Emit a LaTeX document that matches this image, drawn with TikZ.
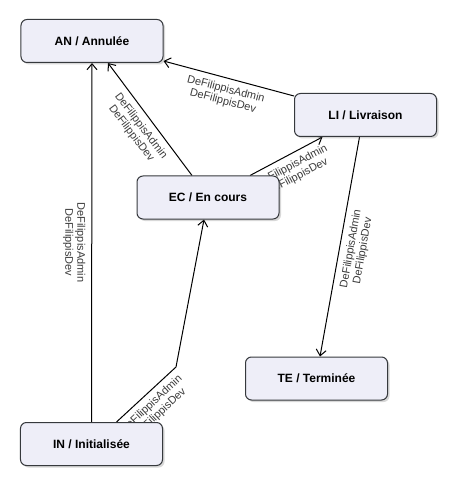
\documentclass[tikz,border=0pt]{standalone}
\usepackage{fontspec}
\setmainfont{Liberation Sans}
\usetikzlibrary{arrows.meta,shadows}
\definecolor{stfill}{RGB}{238, 238, 248}
\definecolor{stdraw}{RGB}{54, 57, 61}
\definecolor{lblgray}{RGB}{60, 60, 60}
\pgfdeclarelayer{bg}
\pgfdeclarelayer{edges}
\pgfsetlayers{bg,edges,main}

\begin{document}
\begin{tikzpicture}[x=1bp, y=-1bp,
  state/.style={draw=stdraw, fill=stfill, line width=1bp, rounded corners=6bp,
    minimum width=142bp, minimum height=43bp, inner sep=0pt,
    font=\fontsize{12bp}{14bp}\selectfont\bfseries,
    drop shadow={shadow xshift=2bp, shadow yshift=-2bp, opacity=0.25, fill=black!60}},
  trans/.style={line width=1bp, -{Straight Barb[length=6bp,width=10bp]}},
  who/.style={font=\fontsize{11bp}{12bp}\selectfont, text=lblgray, align=center, inner sep=0pt}
]
% Page
\begin{pgfonlayer}{bg}
\fill[white] (0,0) rectangle (455,486);
\end{pgfonlayer}
\useasboundingbox (0,0) rectangle (455,486);

% States
\node[state] (AN) at (92,41) {AN / Annulée};
\node[state] (LI) at (365.5,115) {LI / Livraison};
\node[state] (EC) at (208,197.5) {EC / En cours};
\node[state] (TE) at (316.5,378.5) {TE / Terminée};
\node[state] (IN) at (91.5,444) {IN / Initialisée};

% Transitions (under the states)
\begin{pgfonlayer}{edges}
\draw[trans] (IN.north) -- node[who, midway, rotate=-90, yshift=-17.5bp] {DeFilippisAdmin\\DeFilippisDev} (AN.south);
\draw[trans] ([xshift=-16bp]EC.north) -- node[who, midway, rotate=-53, yshift=-17.5bp] {DeFilippisAdmin\\DeFilippisDev} ([xshift=16bp]AN.south);
\draw[trans] ([yshift=-3bp]LI.north west) -- node[who, midway, rotate=-14.6, yshift=-17.5bp] {DeFilippisAdmin\\DeFilippisDev} ([yshift=2bp]AN.south east);
\draw[trans] ([xshift=42bp]EC.north) -- node[who, midway, rotate=28, yshift=-17.5bp] {DeFilippisAdmin\\DeFilippisDev} ([xshift=-43bp]LI.south);
\draw[trans] ([xshift=25bp]IN.north) -- node[who, midway, rotate=43, xshift=-3bp, yshift=-17bp] {DeFilippisAdmin\\DeFilippisDev} (176,367) -- ([xshift=-4bp]EC.south);
\draw[trans] ([xshift=-6bp]LI.south) -- node[who, midway, rotate=80, yshift=-17.5bp] {DeFilippisAdmin\\DeFilippisDev} ([xshift=3.5bp]TE.north);
\end{pgfonlayer}
\end{tikzpicture}
\end{document}
